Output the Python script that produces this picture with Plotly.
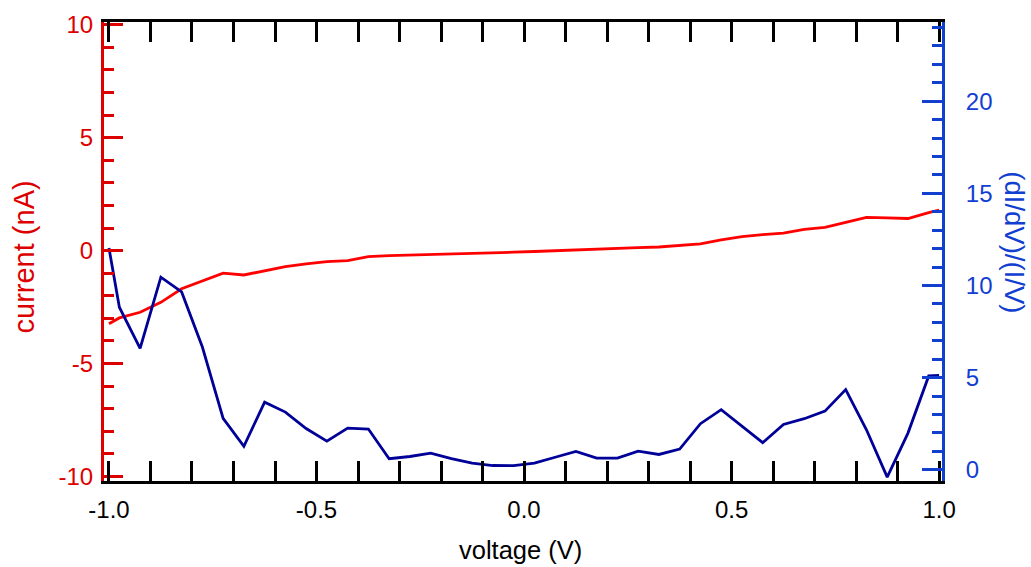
import plotly.graph_objects as go

voltage = [-1.0, -0.975, -0.925, -0.875, -0.825, -0.775, -0.725, -0.675, -0.625, -0.575,
           -0.525, -0.475, -0.425, -0.375, -0.325, -0.275, -0.225, -0.175, -0.125, -0.075,
           -0.025, 0.025, 0.075, 0.125, 0.175, 0.225, 0.275, 0.325, 0.375, 0.425,
           0.475, 0.525, 0.575, 0.625, 0.675, 0.725, 0.775, 0.825, 0.875, 0.925,
           0.975, 1.0]

current_nA = [-3.24, -2.98, -2.73, -2.29, -1.69, -1.36, -1.00, -1.08, -0.88, -0.71,
              -0.59, -0.49, -0.44, -0.27, -0.22, -0.20, -0.18, -0.15, -0.11, -0.09,
              -0.07, -0.04, 0.00, 0.03, 0.07, 0.09, 0.13, 0.16, 0.22, 0.30,
              0.47, 0.62, 0.71, 0.77, 0.94, 1.03, 1.25, 1.47, 1.45, 1.42,
              1.68, 1.79]

norm_conductance = [12.03, 8.82, 6.59, 10.45, 9.65, 6.66, 2.79, 1.27, 3.67, 3.13,
                    2.24, 1.55, 2.26, 2.21, 0.60, 0.72, 0.90, 0.60, 0.36, 0.23,
                    0.22, 0.36, 0.68, 0.99, 0.63, 0.63, 1.01, 0.83, 1.12, 2.50,
                    3.26, 2.35, 1.47, 2.46, 2.77, 3.18, 4.35, 2.17, -0.40, 1.99,
                    5.09, 5.12]

x_ticks = [-1.0, -0.5, 0.0, 0.5, 1.0]
x_tick_labels = ["-1.0", "-0.5", "0.0", "0.5", "1.0"]
y_ticks = [-10, -5, 0, 5, 10]
y_tick_labels = ["-10", "-5", "0", "5", "10"]
y2_ticks = [0, 5, 10, 15, 20]
y2_tick_labels = ["0", "5", "10", "15", "20"]

RED_LINE = "#FF0000"
RED_AXIS = "#DD0000"
BLUE_LINE = "#000099"
BLUE_AXIS = "#1140D0"
FONT = "Liberation Sans, Arial, sans-serif"
TICK_SIZE = 24

fig = go.Figure()
fig.add_trace(go.Scatter(x=voltage, y=current_nA, mode="lines",
                         line=dict(color=RED_LINE, width=2.8), yaxis="y"))
fig.add_trace(go.Scatter(x=voltage, y=norm_conductance, mode="lines",
                         line=dict(color=BLUE_LINE, width=2.8), yaxis="y2"))

fig.update_layout(
    width=1031, height=567,
    margin=dict(l=104, r=89, t=22, b=86),
    paper_bgcolor="white", plot_bgcolor="white",
    showlegend=False,
    font=dict(family=FONT, size=TICK_SIZE, color="black"),
    xaxis=dict(
        range=[-1.012, 1.007], showgrid=False, zeroline=False,
        showline=True, linecolor="black", linewidth=3, mirror="allticks",
        ticks="inside", ticklen=20, tickwidth=2.5, tickcolor="black",
        tickvals=x_ticks, ticktext=x_tick_labels,
        tickfont=dict(family=FONT, size=TICK_SIZE, color="black"),
        ticklabelstandoff=5,
        minor=dict(dtick=0.1, tick0=0, ticks="inside", ticklen=10, tickwidth=2.5,
                   tickcolor="black", showgrid=False),
    ),
    yaxis=dict(
        range=[-10.2, 10.12], showgrid=False, zeroline=False,
        showline=True, linecolor=RED_AXIS, linewidth=3,
        ticks="inside", ticklen=19, tickwidth=2.5, tickcolor=RED_AXIS,
        tickvals=y_ticks, ticktext=y_tick_labels,
        tickfont=dict(family=FONT, size=TICK_SIZE, color=RED_AXIS),
        ticklabelstandoff=3,
        minor=dict(dtick=1, tick0=0, ticks="inside", ticklen=10, tickwidth=2.5,
                   tickcolor=RED_AXIS, showgrid=False),
    ),
    yaxis2=dict(
        overlaying="y", side="right",
        range=[-0.61, 24.3], showgrid=False, zeroline=False,
        showline=True, linecolor=BLUE_AXIS, linewidth=3,
        ticks="inside", ticklen=20, tickwidth=2.5, tickcolor=BLUE_AXIS,
        tickvals=y2_ticks, ticktext=y2_tick_labels,
        tickfont=dict(family=FONT, size=TICK_SIZE, color=BLUE_AXIS),
        ticklabelstandoff=16,
        minor=dict(dtick=1, tick0=0, ticks="inside", ticklen=10, tickwidth=2.5,
                   tickcolor=BLUE_AXIS, showgrid=False),
    ),
    annotations=[
        dict(text="voltage (V)", xref="paper", yref="paper", x=0.497, y=0,
             yshift=-69, xanchor="center", yanchor="middle", showarrow=False,
             font=dict(family=FONT, size=25.5, color="black")),
        dict(text="current (nA)", xref="paper", yref="paper", x=0, y=0.487,
             xshift=-80, xanchor="center", yanchor="middle", showarrow=False,
             textangle=-90,
             font=dict(family=FONT, size=29, color=RED_AXIS)),
        dict(text="(dI/dV)/(I/V)", xref="paper", yref="paper", x=1, y=0.52,
             xshift=73, xanchor="center", yanchor="middle", showarrow=False,
             textangle=90,
             font=dict(family=FONT, size=27.5, color=BLUE_AXIS)),
    ],
)

fig.write_html("out.html")
